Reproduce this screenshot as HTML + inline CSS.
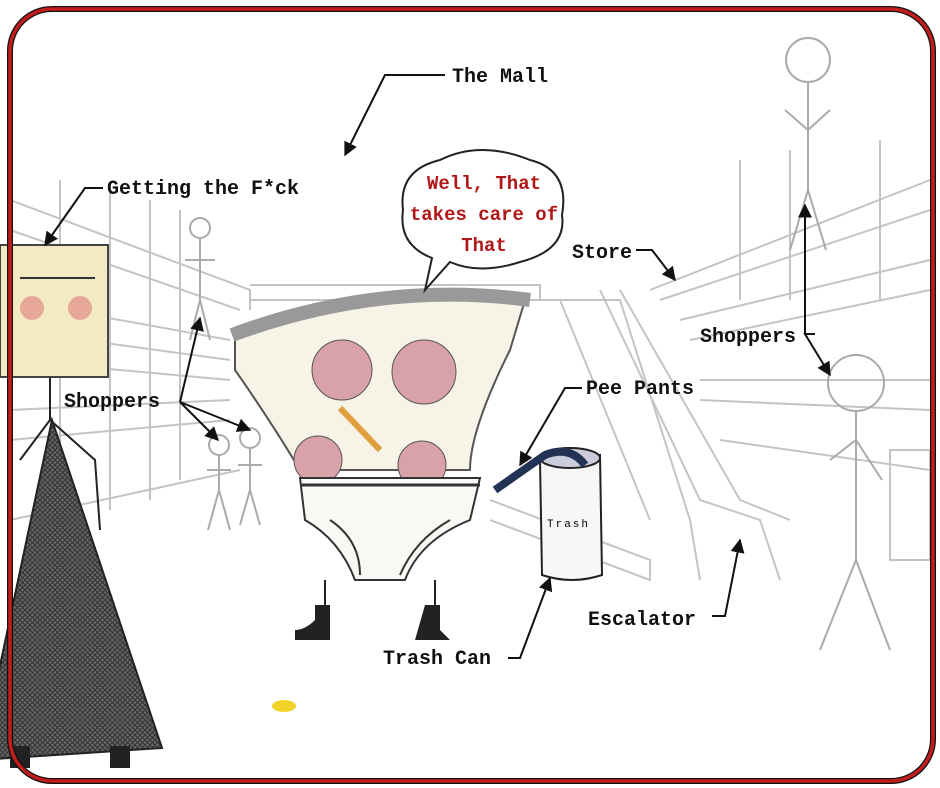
<!DOCTYPE html>
<html><head><meta charset="utf-8"><style>
html,body{margin:0;padding:0;background:#fff;}
svg{display:block}
text{font-family:"Liberation Mono",monospace;font-weight:bold;}
</style></head><body>
<svg width="940" height="788" viewBox="0 0 940 788" xmlns="http://www.w3.org/2000/svg">
<defs>
<marker id="a" viewBox="0 0 10 10" refX="9" refY="5" markerWidth="7" markerHeight="7" orient="auto-start-reverse"><path d="M0 0 L10 5 L0 10 z" fill="#111"/></marker>
<pattern id="mesh" width="5" height="5" patternUnits="userSpaceOnUse"><rect width="5" height="5" fill="#666"/><path d="M0 0 L5 5 M5 0 L0 5" stroke="#333" stroke-width="1"/></pattern>
</defs>
<rect width="940" height="788" fill="#fff"/>
<g stroke="#c4c4c4" stroke-width="2" fill="none">
<path d="M10 200 L250 290 L250 310 M10 230 L240 310 M10 300 L230 340 M10 330 L230 360 M10 410 L230 400 M10 440 L230 420 M10 520 L240 470"/>
<path d="M60 180 L60 520 M110 190 L110 510 M150 200 L150 500 M180 210 L180 480"/>
<path d="M250 285 L540 285 L540 300 L250 300"/>
<path d="M930 180 L650 290 M930 210 L660 300 M930 260 L680 320 M930 290 L690 340 M930 380 L700 380 M930 410 L700 400 M930 470 L720 440"/>
<path d="M740 160 L740 300 M790 150 L790 300 M880 140 L880 300"/>
<path d="M540 300 L620 300 L690 520 L700 580 M560 300 L650 520 M600 290 L700 500 L760 520 L780 580 M620 290 L740 500 L790 520"/>
<path d="M490 500 L650 560 L650 580 L490 520"/>
<path d="M890 450 L930 450 L930 560 L890 560 Z"/>
<path d="M10 360 L230 380"/>
</g>
<g stroke="#aaa" stroke-width="2" fill="none">
<circle cx="808" cy="60" r="22"/><path d="M808 82 V190 M785 110 L808 130 L830 110 M808 190 L790 250 M808 190 L826 250"/>
<circle cx="856" cy="383" r="28"/><path d="M856 411 V560 M830 460 L856 440 L882 480 M856 560 L820 650 M856 560 L890 650"/>
<circle cx="200" cy="228" r="10"/><path d="M200 238 V300 M185 260 L215 260 M200 300 L190 340 M200 300 L210 340"/>
<circle cx="219" cy="445" r="10"/><path d="M219 455 V490 M207 470 L231 470 M219 490 L208 530 M219 490 L230 530"/>
<circle cx="250" cy="438" r="10"/><path d="M250 448 V490 M238 465 L262 465 M250 490 L240 525 M250 490 L260 525"/>
</g>
<rect x="0" y="245" width="108" height="132" fill="#f3e9c3" stroke="#444" stroke-width="2"/>
<line x1="20" y1="278" x2="95" y2="278" stroke="#333" stroke-width="2"/>
<circle cx="32" cy="308" r="12" fill="#e8a898"/><circle cx="80" cy="308" r="12" fill="#e8a898"/>
<path d="M50 378 V420 M20 460 L50 420 L95 460 L100 530" stroke="#222" stroke-width="2" fill="none"/>
<polygon points="52,420 -20,760 162,748" fill="url(#mesh)" stroke="#222" stroke-width="2"/>
<path d="M110 746 h20 v22 h-20z M10 746 h20 v22 h-20z" fill="#222"/>
<path d="M235 330 Q370 275 525 300 L510 350 Q470 430 470 470 L300 470 Q270 420 235 370 Z" fill="#f7f3e6" stroke="#555" stroke-width="2"/>
<path d="M232 335 Q380 280 530 300" stroke="#999" stroke-width="14" fill="none"/>
<circle cx="342" cy="370" r="30" fill="#d9a2a8" stroke="#555"/>
<circle cx="424" cy="372" r="32" fill="#d9a2a8" stroke="#555"/>
<circle cx="318" cy="460" r="24" fill="#d9a2a8" stroke="#555"/>
<circle cx="422" cy="465" r="24" fill="#d9a2a8" stroke="#555"/>
<line x1="340" y1="408" x2="380" y2="450" stroke="#e0a040" stroke-width="6"/>
<path d="M300 478 L480 478 L470 520 Q420 540 405 580 L355 580 Q340 540 305 520 Z" fill="#f8f8f4" stroke="#333" stroke-width="2"/>
<path d="M300 485 L480 485" stroke="#333" stroke-width="3"/>
<path d="M330 520 Q360 540 360 575 M450 520 Q415 540 400 575" stroke="#333" stroke-width="2" fill="none"/>
<path d="M325 580 V610 M435 580 V610" stroke="#222" stroke-width="2"/>
<path d="M315 605 h15 v35 h-35 v-10 q10 0 20 -10z M425 605 h15 v25 q5 5 10 10 h-35z" fill="#222"/>
<path d="M540 460 L600 455 L602 575 Q572 585 542 575 Z" fill="#f7f7f7" stroke="#222" stroke-width="2"/>
<ellipse cx="570" cy="458" rx="30" ry="10" fill="#ccd" stroke="#222" stroke-width="2"/>
<path d="M495 490 L545 455 Q570 445 585 465" stroke="#223355" stroke-width="8" fill="none"/>
<text x="547" y="527" font-size="11" style="font-weight:normal" letter-spacing="2">Trash</text>
<ellipse cx="284" cy="706" rx="12" ry="6" fill="#f2d32a"/>
<path d="M440 160 Q480 140 530 160 Q570 170 562 215 Q567 250 520 262 Q480 275 450 262 L425 290 L432 258 Q398 245 403 210 Q398 170 440 160Z" fill="#fff" stroke="#222" stroke-width="2"/>
<g font-size="19" fill="#b01818" text-anchor="middle">
<text x="484" y="189">Well, That</text>
<text x="484" y="220">takes care of</text>
<text x="484" y="251">That</text>
</g>
<g font-size="20" fill="#111">
<text x="452" y="82">The Mall</text>
<text x="107" y="194">Getting the F*ck</text>
<text x="572" y="258">Store</text>
<text x="700" y="342">Shoppers</text>
<text x="64" y="407">Shoppers</text>
<text x="586" y="394">Pee Pants</text>
<text x="588" y="625">Escalator</text>
<text x="383" y="664">Trash Can</text>
</g>
<g stroke="#111" stroke-width="2" fill="none" marker-end="url(#a)">
<path d="M445 75 H385 L345 155"/>
<path d="M103 188 H85 L45 245"/>
<path d="M636 250 H652 L675 280"/>
<path d="M815 334 H805 L830 375"/>
<path d="M805 334 L805 205"/>
<path d="M180 402 L200 318"/>
<path d="M180 402 L218 440"/>
<path d="M180 402 L250 430"/>
<path d="M582 388 H565 L520 465"/>
<path d="M712 616 H725 L740 540"/>
<path d="M508 658 H520 L550 578"/>
</g>
<rect x="10" y="9" width="923" height="772" rx="42" fill="none" stroke="#111" stroke-width="6"/>
<rect x="10" y="9" width="923" height="772" rx="42" fill="none" stroke="#c21d1d" stroke-width="3.5"/>
</svg>
</body></html>
